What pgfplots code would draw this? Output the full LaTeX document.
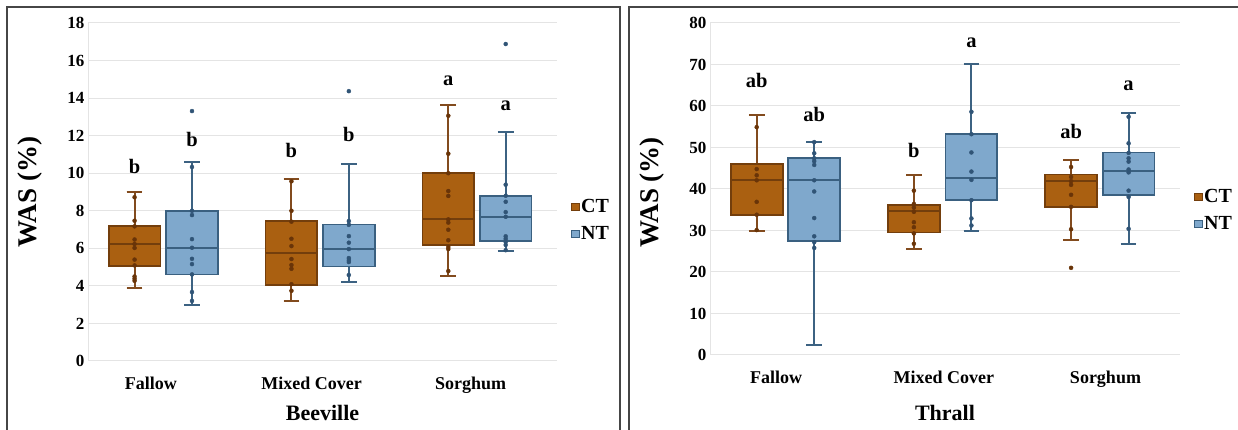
\documentclass[border=0pt]{standalone}
\usepackage{fontspec}
\setmainfont{Liberation Serif}
\usepackage{pgfplots}
\pgfplotsset{compat=1.18}
\usepgfplotslibrary{statistics}
\definecolor{ctfill}{RGB}{170,96,17}
\definecolor{ctedge}{RGB}{115,62,12}
\definecolor{ctwhisk}{RGB}{130,75,30}
\definecolor{ctpt}{RGB}{105,52,8}
\definecolor{ntfill}{RGB}{127,168,204}
\definecolor{ntedge}{RGB}{58,96,128}
\definecolor{ntwhisk}{RGB}{60,98,130}
\definecolor{ntpt}{RGB}{48,84,118}
\definecolor{gridc}{RGB}{228,228,228}
\definecolor{framec}{RGB}{70,70,70}
\tikzset{letter/.style={font=\fontsize{20.5}{20.5}\selectfont\bfseries, anchor=center}}
\pgfplotsset{
  panel/.style={
    scale only axis, xmin=-0.48, xmax=2.51, ymin=0,
    axis lines*=left,
    axis line style={draw=gridc, line width=1pt},
    ymajorgrids, grid style={draw=gridc, line width=1pt},
    major tick length=0pt,
    /pgf/number format/assume math mode=true,
    yticklabel style={font=\fontsize{17}{17}\selectfont\bfseries},
    xticklabel style={font=\fontsize{18}{18}\selectfont\bfseries, yshift=-12pt},
    ylabel={WAS (\%)},
    ylabel style={font=\fontsize{27}{27}\selectfont\bfseries, anchor=center},
    xlabel style={font=\fontsize{22}{22}\selectfont\bfseries, anchor=center},
    legend style={draw=none, fill=none, anchor=west,
      font=\fontsize{20}{20}\selectfont\bfseries,
      row sep=9pt, nodes={inner sep=1.5pt}},
    legend image code/.code={\draw[##1, line width=1pt] (0pt,-3.6pt) rectangle (7.2pt,3.6pt);},
    clip=false,
  },
  ctbox/.style={forget plot, boxplot/draw direction=y, boxplot/box extend=0.33,
    boxplot/whisker extend=0.1, fill=ctfill, draw=ctedge, mark=none,
    boxplot/every box/.style={draw=ctedge, fill=ctfill, line width=1.8pt},
    boxplot/every median/.style={draw=ctedge, line width=2pt},
    boxplot/every whisker/.style={draw=ctwhisk, line width=2pt}},
  ntbox/.style={forget plot, boxplot/draw direction=y, boxplot/box extend=0.33,
    boxplot/whisker extend=0.1, fill=ntfill, draw=ntedge, mark=none,
    boxplot/every box/.style={draw=ntedge, fill=ntfill, line width=1.8pt},
    boxplot/every median/.style={draw=ntedge, line width=2pt},
    boxplot/every whisker/.style={draw=ntwhisk, line width=2pt}},
  ctpts/.style={forget plot, only marks, mark=*, mark size=2pt, color=ctpt},
  ntpts/.style={forget plot, only marks, mark=*, mark size=2pt, color=ntpt},
}
\begin{document}
\begin{tikzpicture}
\useasboundingbox (0pt,0pt) rectangle (1238pt,430pt);
% ---------------- Beeville ----------------
\begin{axis}[panel, at={(88pt,69pt)}, anchor=south west,
  width=469pt, height=338pt, ymax=18, ytick distance=2,
  xtick={-0.079,0.946,1.959}, xticklabels={Fallow,Mixed Cover,Sorghum},
  xlabel={Beeville},
  xlabel style={at={(axis description cs:0.5,-0.154)}},
  ylabel style={at={(axis description cs:-0.124,0.5)}},
  legend style={at={(axis description cs:1.024,0.416)}},
]
\addlegendimage{fill=ctfill, draw=ctedge}\addlegendentry{CT}
\addlegendimage{fill=ntfill, draw=ntedge}\addlegendentry{NT}
% Fallow
\addplot[ctbox, boxplot prepared={draw position=-0.183, lower whisker=3.87, lower quartile=5.08, median=6.21, upper quartile=7.18, upper whisker=9.0}] coordinates {};
\addplot[ctpts] coordinates {(-0.183,8.72) (-0.183,7.47) (-0.183,7.17) (-0.183,6.47) (-0.183,6.23) (-0.183,6.02) (-0.183,5.40) (-0.183,5.09) (-0.183,4.50) (-0.183,4.38) (-0.183,4.27)};
\addplot[ntbox, boxplot prepared={draw position=0.183, lower whisker=2.99, lower quartile=4.61, median=6.02, upper quartile=8.0, upper whisker=10.62}] coordinates {};
\addplot[ntpts] coordinates {(0.183,13.31) (0.183,10.33) (0.183,8.0) (0.183,7.77) (0.183,6.49) (0.183,6.03) (0.183,5.44) (0.183,5.16) (0.183,4.61) (0.183,3.67) (0.183,3.20)};
% Mixed Cover
\addplot[ctbox, boxplot prepared={draw position=0.817, lower whisker=3.17, lower quartile=4.06, median=5.75, upper quartile=7.44, upper whisker=9.68}] coordinates {};
\addplot[ctpts] coordinates {(0.817,9.57) (0.817,8.0) (0.817,7.42) (0.817,6.51) (0.817,6.12) (0.817,5.43) (0.817,5.11) (0.817,4.91) (0.817,4.09) (0.817,3.74)};
\addplot[ntbox, boxplot prepared={draw position=1.183, lower whisker=4.2, lower quartile=5.03, median=5.96, upper quartile=7.27, upper whisker=10.47}] coordinates {};
\addplot[ntpts] coordinates {(1.183,14.37) (1.183,7.45) (1.183,7.25) (1.183,6.65) (1.183,6.30) (1.183,5.96) (1.183,5.48) (1.183,5.37) (1.183,5.27) (1.183,4.58)};
% Sorghum
\addplot[ctbox, boxplot prepared={draw position=1.817, lower whisker=4.53, lower quartile=6.19, median=7.54, upper quartile=10.0, upper whisker=13.63}] coordinates {};
\addplot[ctpts] coordinates {(1.817,13.06) (1.817,11.04) (1.817,10.0) (1.817,9.05) (1.817,8.79) (1.817,7.54) (1.817,7.37) (1.817,6.99) (1.817,6.43) (1.817,6.07) (1.817,5.96) (1.817,4.79)};
\addplot[ntbox, boxplot prepared={draw position=2.183, lower whisker=5.87, lower quartile=6.39, median=7.69, upper quartile=8.8, upper whisker=12.21}] coordinates {};
\addplot[ntpts] coordinates {(2.183,16.88) (2.183,9.39) (2.183,8.8) (2.183,8.48) (2.183,7.93) (2.183,7.68) (2.183,6.64) (2.183,6.50) (2.183,6.34) (2.183,6.18) (2.183,5.90)};
% letters
\node[letter] at (axis cs:-0.183,10.35) {b};
\node[letter] at (axis cs:0.183,11.78) {b};
\node[letter] at (axis cs:0.817,11.2) {b};
\node[letter] at (axis cs:1.183,12.05) {b};
\node[letter] at (axis cs:1.817,14.9) {a};
\node[letter] at (axis cs:2.183,13.6) {a};
\end{axis}
% ---------------- Thrall ----------------
\begin{axis}[panel, at={(710pt,75pt)}, anchor=south west,
  width=470pt, height=332pt, ymax=80, ytick distance=10,
  xtick={-0.06,1.007,2.036}, xticklabels={Fallow,Mixed Cover,Sorghum},
  xlabel={Thrall},
  xlabel style={at={(axis description cs:0.5,-0.175)}},
  ylabel style={at={(axis description cs:-0.123,0.49)}},
  legend style={at={(axis description cs:1.024,0.436)}},
]
\addlegendimage{fill=ctfill, draw=ctedge}\addlegendentry{CT}
\addlegendimage{fill=ntfill, draw=ntedge}\addlegendentry{NT}
% Fallow
\addplot[ctbox, boxplot prepared={draw position=-0.183, lower whisker=29.9, lower quartile=33.8, median=42.1, upper quartile=46.0, upper whisker=57.8}] coordinates {};
\addplot[ctpts] coordinates {(-0.183,54.9) (-0.183,44.8) (-0.183,43.3) (-0.183,42.1) (-0.183,36.9) (-0.183,33.8) (-0.183,30.1)};
\addplot[ntbox, boxplot prepared={draw position=0.183, lower whisker=2.5, lower quartile=27.4, median=42.2, upper quartile=47.5, upper whisker=51.4}] coordinates {};
\addplot[ntpts] coordinates {(0.183,51.3) (0.183,48.6) (0.183,47.4) (0.183,46.7) (0.183,45.8) (0.183,42.1) (0.183,39.4) (0.183,33.0) (0.183,28.6) (0.183,27.2) (0.183,25.8)};
% Mixed Cover
\addplot[ctbox, boxplot prepared={draw position=0.817, lower whisker=25.5, lower quartile=29.5, median=34.6, upper quartile=36.2, upper whisker=43.4}] coordinates {};
\addplot[ctpts] coordinates {(0.817,39.6) (0.817,36.4) (0.817,35.5) (0.817,34.5) (0.817,32.0) (0.817,30.8) (0.817,29.3) (0.817,26.8)};
\addplot[ntbox, boxplot prepared={draw position=1.183, lower whisker=29.9, lower quartile=37.3, median=42.6, upper quartile=53.2, upper whisker=70.0}] coordinates {};
\addplot[ntpts] coordinates {(1.183,58.6) (1.183,53.2) (1.183,48.8) (1.183,44.2) (1.183,42.2) (1.183,37.3) (1.183,32.9) (1.183,31.2)};
% Sorghum
\addplot[ctbox, boxplot prepared={draw position=1.817, lower whisker=27.6, lower quartile=35.6, median=41.9, upper quartile=43.5, upper whisker=47.0}] coordinates {};
\addplot[ctpts] coordinates {(1.817,45.3) (1.817,42.9) (1.817,41.9) (1.817,41.0) (1.817,38.6) (1.817,35.7) (1.817,30.3) (1.817,21.0)};
\addplot[ntbox, boxplot prepared={draw position=2.183, lower whisker=26.8, lower quartile=38.6, median=44.4, upper quartile=48.8, upper whisker=58.2}] coordinates {};
\addplot[ntpts] coordinates {(2.183,57.4) (2.183,51.0) (2.183,48.7) (2.183,47.4) (2.183,46.6) (2.183,44.7) (2.183,44.0) (2.183,39.6) (2.183,38.1) (2.183,30.4)};
% letters
\node[letter] at (axis cs:-0.183,66.1) {ab};
\node[letter] at (axis cs:0.183,58.0) {ab};
\node[letter] at (axis cs:0.817,49.3) {b};
\node[letter] at (axis cs:1.183,75.2) {a};
\node[letter] at (axis cs:1.817,53.9) {ab};
\node[letter] at (axis cs:2.183,64.9) {a};
\end{axis}
% panel frames
\draw[framec, line width=1.3pt] (7pt,-5pt) |- (620pt,423pt) -- (620pt,-5pt);
\draw[framec, line width=1.3pt] (629pt,-5pt) |- (1250pt,423pt);
\end{tikzpicture}
\end{document}
